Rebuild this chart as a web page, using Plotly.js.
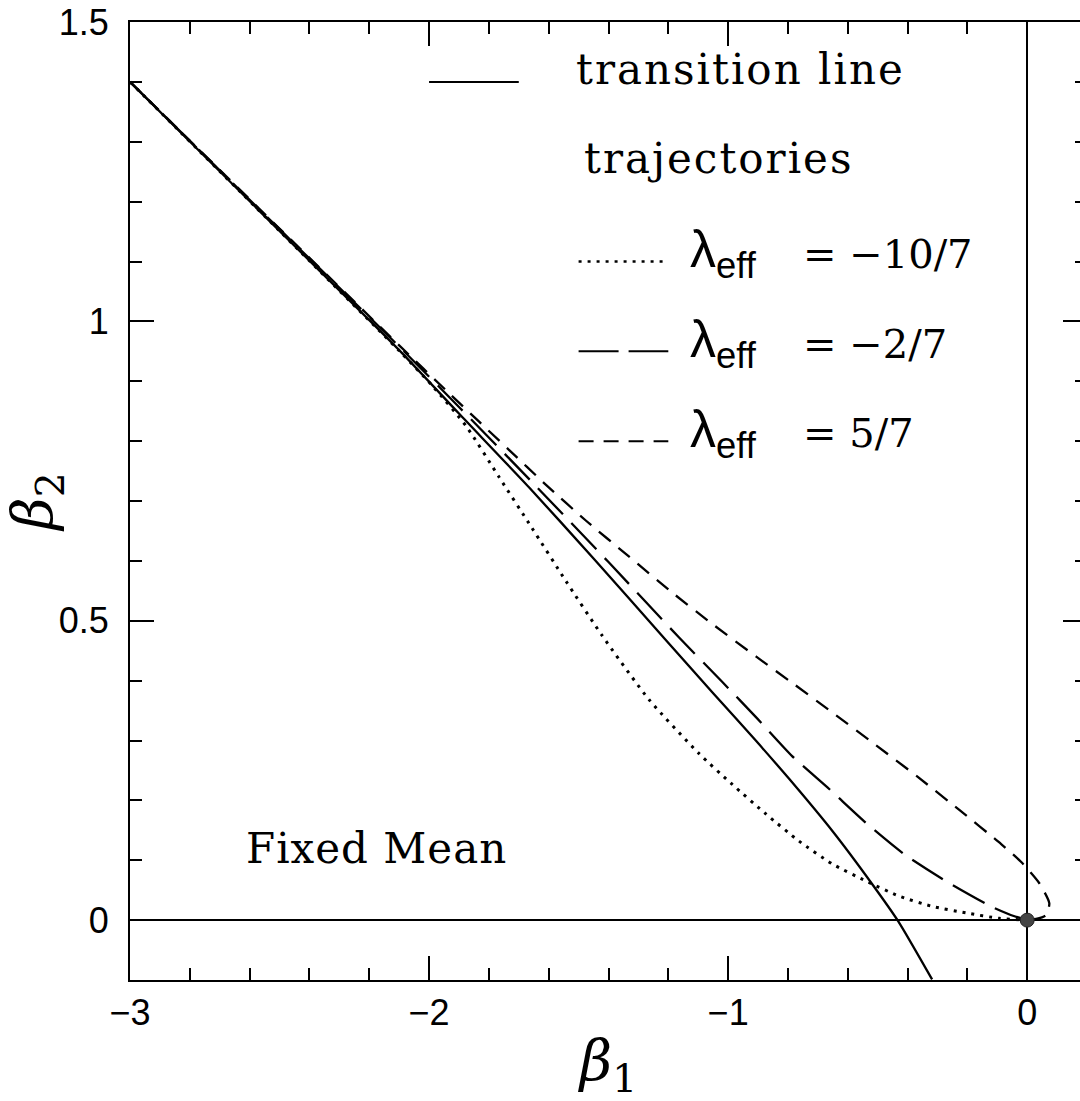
<!DOCTYPE html>
<html>
<head>
<meta charset="utf-8">
<script src="https://cdn.plot.ly/plotly-3.0.1.min.js"></script>
<style>
html, body { margin: 0; padding: 0; overflow: hidden; background: #fff; }
#chart { width: 1100px; height: 1101px; }
</style>
</head>
<body>
<div id="chart"></div>
<script>
// transition line (solid)
const transB1 = [-3.0, -2.5, -2.1, -1.9, -1.666, -1.45, -1.207, -1.05, -0.906, -0.796, -0.65, -0.518, -0.431, -0.318];
const transB2 = [1.40, 1.151, 0.952, 0.846, 0.723, 0.604, 0.467, 0.379, 0.299, 0.236, 0.148, 0.060, -0.002, -0.099];

// trajectory lambda_eff = -10/7 (dotted)
const trajA_B1 = [-3.0, -2.5, -2.1, -1.99, -1.876, -1.766, -1.656, -1.542, -1.421, -1.264, -1.097, -0.987, -0.873, -0.763, -0.652, -0.538, -0.428, -0.318, -0.204, -0.094, 0];
const trajA_B2 = [1.40, 1.151, 0.951, 0.893, 0.825, 0.740, 0.655, 0.566, 0.475, 0.368, 0.278, 0.227, 0.177, 0.132, 0.094, 0.065, 0.040, 0.023, 0.012, 0.003, 0];

// trajectory lambda_eff = -2/7 (long dash)
const trajB_B1 = [-3.0, -2.5, -2.1, -1.9, -1.666, -1.4, -1.164, -1.02, -0.903, -0.786, -0.662, -0.538, -0.411, -0.271, -0.117, -0.04, 0];
const trajB_B2 = [1.40, 1.154, 0.958, 0.857, 0.737, 0.598, 0.472, 0.398, 0.337, 0.274, 0.219, 0.162, 0.110, 0.065, 0.022, 0.006, 0];

// trajectory lambda_eff = 5/7 (short dash)
const trajC_B1 = [-3.0, -2.502, -2.1, -1.933, -1.732, -1.609, -1.475, -1.331, -1.197, -1.054, -0.906, -0.796, -0.652, -0.505, -0.368, -0.227, -0.087, -0.020, 0.040, 0.074, 0.062, 0.030, 0];
const trajC_B2 = [1.400, 1.156, 0.960, 0.880, 0.785, 0.727, 0.667, 0.607, 0.551, 0.495, 0.440, 0.400, 0.347, 0.292, 0.240, 0.184, 0.127, 0.097, 0.062, 0.028, 0.008, 0.002, 0];

// fixed point
const fixedB1 = [0];
const fixedB2 = [0];

// legend labels
const legendLabels = ["transition line", "trajectories"];
const lambdaValues = ["−10/7", "−2/7", "5/7"];
const regionLabel = "Fixed Mean";

const xTickVals = [-3, -2, -1, 0];
const yTickVals = [0, 0.5, 1, 1.5];
const yTickText = ["0", "0.5", "1", "1.5"];

const lineW = 2.3;
const traces = [
  {x: transB1, y: transB2, mode: 'lines', line: {color: '#000', width: lineW, shape: 'spline', smoothing: 0.6}, hoverinfo: 'skip'},
  {x: trajA_B1, y: trajA_B2, mode: 'lines', line: {color: '#000', width: 3, dash: '3px,6px', shape: 'spline', smoothing: 0.6}, hoverinfo: 'skip'},
  {x: trajB_B1, y: trajB_B2, mode: 'lines', line: {color: '#000', width: lineW, dash: '36px,12px', shape: 'spline', smoothing: 0.6}, hoverinfo: 'skip'},
  {x: trajC_B1, y: trajC_B2, mode: 'lines', line: {color: '#000', width: lineW, dash: '15px,10px', shape: 'spline', smoothing: 0.6}, hoverinfo: 'skip'},
  {x: fixedB1, y: fixedB2, mode: 'markers', marker: {size: 14, color: '#444', line: {color: '#222', width: 1}}, hoverinfo: 'skip'}
];

const serif = 'DejaVu Serif, serif';
const sans = 'Liberation Sans, Arial, sans-serif';
const NB = '\u00A0';
function spaced(t, px) {
  return '<span style="letter-spacing:' + px + 'px">' + t + '</span>';
}

const rowY = [1.11, 0.96, 0.81];
const annotations = [
  {x: -1.515, y: 1.42, xref: 'x', yref: 'y', text: spaced(legendLabels[0], 2), showarrow: false, xanchor: 'left', yanchor: 'middle', font: {family: serif, size: 42, color: '#000'}},
  {x: -1.488, y: 1.272, xref: 'x', yref: 'y', text: spaced(legendLabels[1], 2), showarrow: false, xanchor: 'left', yanchor: 'middle', font: {family: serif, size: 42, color: '#000'}},
  {x: -2.62, y: 0.12, xref: 'x', yref: 'y', text: spaced(regionLabel, 1), showarrow: false, xanchor: 'left', yanchor: 'middle', font: {family: serif, size: 42, color: '#000'}}
];
lambdaValues.forEach(function (v, i) {
  annotations.push({x: -1.135, y: rowY[i] + 0.004, xref: 'x', yref: 'y', text: 'λ<sub>eff</sub>', showarrow: false, xanchor: 'left', yanchor: 'middle', font: {family: sans, size: 52, color: '#000'}});
  annotations.push({x: -0.755, y: rowY[i] + 0.003, xref: 'x', yref: 'y', text: '=' + NB + v, showarrow: false, xanchor: 'left', yanchor: 'middle', font: {family: serif, size: 40, color: '#000'}});
});

const shapes = [
  {type: 'line', xref: 'x', yref: 'y', x0: -2.0, x1: -1.7, y0: 1.40, y1: 1.40, line: {color: '#000', width: 2}},
  {type: 'line', xref: 'x', yref: 'y', x0: -1.5, x1: -1.2, y0: 1.10, y1: 1.10, line: {color: '#000', width: 2.6, dash: '3px,6px'}},
  {type: 'line', xref: 'x', yref: 'y', x0: -1.5, x1: -1.2, y0: 0.95, y1: 0.95, line: {color: '#000', width: 2, dash: '40px,10px'}},
  {type: 'line', xref: 'x', yref: 'y', x0: -1.5, x1: -1.2, y0: 0.80, y1: 0.80, line: {color: '#000', width: 2, dash: '15px,10px'}}
];

const layout = {
  width: 1100,
  height: 1101,
  margin: {l: 130, r: 13, t: 22, b: 121},
  paper_bgcolor: '#fff',
  plot_bgcolor: '#fff',
  showlegend: false,
  xaxis: {
    range: [-3, 0.2],
    tickvals: xTickVals,
    ticks: 'inside', ticklen: 24, tickwidth: 2, tickcolor: '#000',
    minor: {dtick: 0.2, ticks: 'inside', ticklen: 12, tickwidth: 2, tickcolor: '#000'},
    showline: true, linecolor: '#000', linewidth: 2, mirror: 'ticks',
    showgrid: false,
    zeroline: true, zerolinecolor: '#000', zerolinewidth: 1.5,
    tickfont: {family: sans, size: 36, color: '#000'},
    ticklabelstandoff: 0,
    title: {text: '<i>β</i><sub>1</sub>' + NB + NB + NB, font: {family: serif, size: 56, color: '#000'}, standoff: 20}
  },
  yaxis: {
    range: [-0.1, 1.5],
    tickvals: yTickVals, ticktext: yTickText,
    ticks: 'inside', ticklen: 24, tickwidth: 2, tickcolor: '#000',
    minor: {dtick: 0.1, ticks: 'inside', ticklen: 12, tickwidth: 2, tickcolor: '#000'},
    showline: true, linecolor: '#000', linewidth: 2, mirror: 'ticks',
    showgrid: false,
    zeroline: true, zerolinecolor: '#000', zerolinewidth: 1.5,
    tickfont: {family: sans, size: 36, color: '#000'},
    ticklabelstandoff: 12,
    title: {text: '<i>β</i><sub>2</sub>', font: {family: serif, size: 56, color: '#000'}, standoff: 0}
  },
  annotations: annotations,
  shapes: shapes
};

Plotly.newPlot('chart', traces, layout, {staticPlot: true, displayModeBar: false});
</script>
</body>
</html>
